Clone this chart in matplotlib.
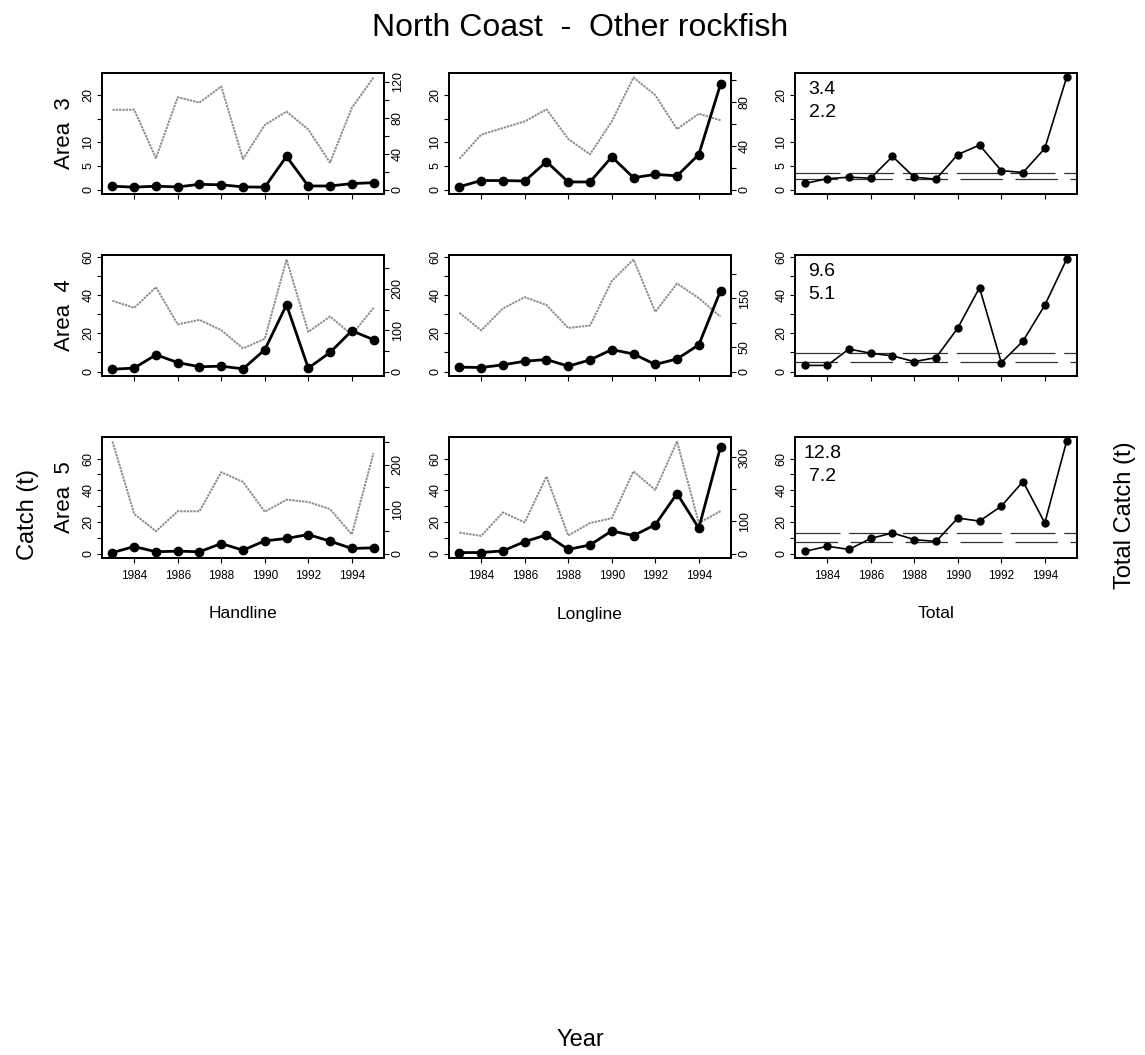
import matplotlib
matplotlib.use("Agg")
import matplotlib.pyplot as plt

plt.rcParams['font.family'] = ['Liberation Sans', 'DejaVu Sans']

years = [1983, 1984, 1985, 1986, 1987, 1988, 1989, 1990, 1991, 1992, 1993, 1994, 1995]
year_ticks = [1984, 1986, 1988, 1990, 1992, 1994]

areas = ["Area  3", "Area  4", "Area  5"]
gears = ["Handline", "Longline", "Total"]

# Catch (t), left axis
area3_handline = [0.7, 0.5, 0.7, 0.55, 1.1, 1.0, 0.55, 0.5, 7.0, 0.75, 0.75, 1.25, 1.45]
area3_longline = [0.6, 1.9, 1.9, 1.8, 5.9, 1.6, 1.6, 6.9, 2.5, 3.2, 2.9, 7.4, 22.3]
area3_total = [1.3, 2.3, 2.6, 2.4, 7.0, 2.6, 2.2, 7.4, 9.4, 4.0, 3.6, 8.7, 23.7]
area4_handline = [1.2, 1.8, 8.8, 4.7, 2.5, 2.8, 1.4, 11.4, 35.0, 1.8, 10.0, 21.4, 16.7]
area4_longline = [2.3, 2.1, 3.5, 5.4, 6.3, 2.8, 6.1, 11.5, 9.2, 3.7, 6.6, 14.0, 42.4]
area4_total = [3.2, 3.2, 11.8, 9.6, 8.2, 5.2, 7.3, 22.8, 44.0, 4.7, 16.0, 34.8, 58.8]
area5_handline = [0.6, 4.4, 1.1, 1.5, 1.1, 6.3, 2.1, 8.0, 9.5, 12.0, 7.8, 3.2, 3.6]
area5_longline = [0.6, 0.6, 1.7, 7.5, 11.8, 2.6, 5.4, 14.3, 11.3, 18.2, 37.9, 16.0, 67.5]
area5_total = [1.4, 4.6, 2.6, 9.5, 13.0, 8.8, 7.6, 22.4, 20.5, 29.9, 45.5, 19.3, 70.8]

# Grey series, right axis
area3_handline_grey = [89, 89, 35, 103, 97, 115, 34, 72, 87, 67, 30, 91, 125]
area3_longline_grey = [28, 50, 56, 62, 73, 46, 32, 62, 102, 86, 55, 69, 63]
area4_handline_grey = [171, 154, 204, 114, 125, 100, 56, 79, 271, 96, 133, 89, 154]
area4_longline_grey = [120, 84, 129, 152, 136, 89, 94, 185, 229, 122, 180, 150, 112]
area5_handline_grey = [252, 89, 50, 95, 95, 183, 161, 94, 121, 116, 100, 43, 226]
area5_longline_grey = [65, 55, 128, 97, 240, 56, 95, 110, 256, 198, 349, 95, 132]

# Reference levels shown in Total panels
area3_refs = [3.4, 2.2]
area4_refs = [9.6, 5.1]
area5_refs = [12.8, 7.2]

# Left-axis ticks per row
left_ticks = [[0, 5, 10, 15, 20], [0, 10, 20, 30, 40, 50, 60], [0, 10, 20, 30, 40, 50, 60]]
left_labels = [["0", "5", "10", "", "20"], ["0", "", "20", "", "40", "", "60"],
               ["0", "", "20", "", "40", "", "60"]]
# Right-axis ticks per (row, gear)
right_ticks = [[[0, 20, 40, 60, 80, 100, 120], [0, 20, 40, 60, 80, 100]],
               [[0, 50, 100, 150, 200, 250], [0, 50, 100, 150, 200]],
               [[0, 50, 100, 150, 200, 250], [0, 100, 200, 300]]]
right_labels = [[["0", "", "40", "", "80", "", "120"], ["0", "", "40", "", "80", ""]],
                [["0", "", "100", "", "200", ""], ["0", "50", "", "150", ""]],
                [["0", "", "100", "", "200", ""], ["0", "100", "", "300"]]]

catch_rows = [[area3_handline, area3_longline, area3_total],
              [area4_handline, area4_longline, area4_total],
              [area5_handline, area5_longline, area5_total]]
grey_rows = [[area3_handline_grey, area3_longline_grey],
             [area4_handline_grey, area4_longline_grey],
             [area5_handline_grey, area5_longline_grey]]
ref_rows = [area3_refs, area4_refs, area5_refs]

W, H = 1145, 1055
fig = plt.figure(figsize=(W / 100, H / 100), dpi=100)

col_left = [102, 449, 795]
row_top = [73, 255, 437]
pw, ph = 282, 121

def rect(x, y):
    return [x / W, 1 - (y + ph) / H, pw / W, ph / H]

xpad = 0.04 * (years[-1] - years[0])
xlim = (years[0] - xpad, years[-1] + xpad)

def style_axis(ax):
    for s in ax.spines.values():
        s.set_linewidth(1.4)
        s.set_color('black')
    ax.tick_params(direction='out', length=3.5, width=0.8, labelsize=9, pad=2)

for r in range(3):
    M = max(catch_rows[r][2])
    ylim = (-0.04 * M, 1.04 * M)
    for c in range(3):
        ax = fig.add_axes(rect(col_left[c], row_top[r]))
        style_axis(ax)
        ax.set_xlim(*xlim)
        ax.set_ylim(*ylim)
        ax.set_yticks(left_ticks[r])
        ax.set_yticklabels(left_labels[r], rotation=90, va='center')
        ax.set_xticks(year_ticks)
        if r == 2:
            ax.set_xticklabels([str(y) for y in year_ticks], fontsize=8.5)
            ax.tick_params(axis='x', pad=5)
        else:
            ax.set_xticklabels([])
        if c < 2:
            ax2 = ax.twinx()
            style_axis(ax2)
            G = max(grey_rows[r][c])
            ax2.set_ylim(-0.04 * G, 1.04 * G)
            ax2.set_xlim(*xlim)
            ax2.set_yticks(right_ticks[r][c])
            ax2.set_yticklabels(right_labels[r][c], rotation=90, va='center')
            ax2.plot(years, grey_rows[r][c], color='0.55', lw=1.4,
                     linestyle=(0, (1.2, 0.5)))
            ax.set_zorder(ax2.get_zorder() + 1)
            ax.patch.set_visible(False)
            ax.plot(years, catch_rows[r][c], color='black', lw=2.0,
                    marker='o', markersize=6)
        else:
            hi, lo = ref_rows[r]
            ax.axhline(hi, color='0.2', lw=0.9, dashes=(36, 7))
            ax.axhline(lo, color='0.2', lw=0.9, dashes=(34, 10))
            ax.plot(years, catch_rows[r][c], color='black', lw=1.2,
                    marker='o', markersize=5)
            ax.text(0.096, 0.86, f"{hi}", transform=ax.transAxes, ha='center',
                    va='center', fontsize=14)
            ax.text(0.096, 0.67, f"{lo}", transform=ax.transAxes, ha='center',
                    va='center', fontsize=14)
        if c == 0:
            fig.text(65 / W, 1 - (row_top[r] + ph / 2) / H, areas[r], rotation=90,
                     ha='center', va='center', fontsize=16)

for c in range(3):
    fig.text((col_left[c] + pw / 2) / W, 1 - 614 / H, gears[c], ha='center',
             va='center', fontsize=12.5)

fig.text(580 / W, 1 - 28 / H, "North Coast  -  Other rockfish", ha='center',
         va='center', fontsize=23)
fig.text(28 / W, 1 - 515 / H, "Catch (t)", rotation=90, ha='center', va='center',
         fontsize=17)
fig.text(1125 / W, 1 - 515 / H, "Total Catch (t)", rotation=90, ha='center',
         va='center', fontsize=17)
fig.text(580 / W, 1 - 1040 / H, "Year", ha='center', va='center', fontsize=17)

fig.savefig("out.png", dpi=100, facecolor='white')
